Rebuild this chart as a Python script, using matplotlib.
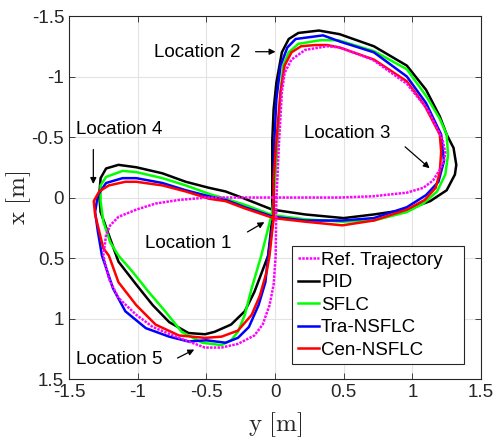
import numpy as np
import matplotlib
matplotlib.use('Agg')
import matplotlib.pyplot as plt

plt.rcParams['font.family'] = ['Liberation Sans', 'DejaVu Sans']
plt.rcParams['mathtext.fontset'] = 'cm'

# reference trajectory (horizontal axis = y, vertical axis = x)
ref_y = [0.00, 0.47, 0.71, 0.96, 1.08, 1.15, 1.20, 1.23, 1.24, 1.22, 1.11, 0.96, 0.71, 0.47, 0.38,
         0.22, 0.12, 0.07, 0.05, 0.04, 0.03, 0.01, 0.005, -0.01, -0.04, -0.09, -0.15, -0.27, -0.39, -0.51,
         -0.70, -0.89, -1.01, -1.14, -1.21, -1.25, -1.23, -1.20, -1.14, -1.01, -0.87, -0.70, -0.49, 0.00]
ref_x = [0.00, 0.00, -0.01, -0.04, -0.08, -0.14, -0.23, -0.30, -0.37, -0.48, -0.73, -0.94, -1.14, -1.24, -1.25,
         -1.22, -1.14, -1.03, -0.87, -0.67, -0.47, 0.02, 0.48, 0.72, 0.89, 1.05, 1.14, 1.21, 1.24, 1.24,
         1.16, 1.07, 0.97, 0.83, 0.67, 0.48, 0.31, 0.23, 0.16, 0.10, 0.05, 0.02, 0.00, 0.00]

pid_y = [-0.02, 0.22, 0.50, 0.72, 0.96, 1.13, 1.25, 1.31, 1.32, 1.30, 1.25, 1.20, 1.10, 0.96, 0.72,
         0.47, 0.32, 0.17, 0.10, 0.05, 0.01, -0.01, -0.02, -0.02, -0.02, -0.05, -0.15, -0.22, -0.32, -0.44,
         -0.51, -0.63, -0.77, -0.89, -1.01, -1.14, -1.21, -1.27, -1.28, -1.27, -1.23, -1.14, -1.01, -0.82, -0.65,
         -0.48, -0.36, -0.22, -0.02]
pid_x = [0.10, 0.14, 0.17, 0.14, 0.10, 0.03, -0.06, -0.19, -0.27, -0.41, -0.52, -0.67, -0.89, -1.09, -1.25,
         -1.35, -1.38, -1.36, -1.31, -1.20, -0.95, -0.73, -0.47, -0.14, 0.17, 0.48, 0.78, 0.94, 1.05, 1.11,
         1.13, 1.12, 1.03, 0.89, 0.72, 0.53, 0.31, 0.12, -0.02, -0.16, -0.24, -0.27, -0.25, -0.20, -0.13,
         -0.08, -0.05, 0.01, 0.10]

sflc_y = [-0.02, 0.22, 0.49, 0.72, 0.96, 1.08, 1.18, 1.24, 1.26, 1.25, 1.20, 1.10, 0.96, 0.72, 0.46,
          0.33, 0.17, 0.10, 0.06, 0.04, 0.02, 0.00, -0.02, -0.10, -0.17, -0.22, -0.27, -0.32, -0.39, -0.46,
          -0.53, -0.68, -0.80, -0.92, -1.04, -1.14, -1.20, -1.25, -1.27, -1.27, -1.23, -1.11, -1.01, -0.82, -0.65,
          -0.48, -0.36, -0.22, -0.02]
sflc_x = [0.145, 0.18, 0.20, 0.19, 0.12, 0.05, -0.05, -0.19, -0.35, -0.52, -0.65, -0.84, -1.06, -1.21, -1.30,
          -1.30, -1.27, -1.20, -1.09, -0.87, -0.47, -0.14, 0.12, 0.48, 0.75, 0.97, 1.11, 1.18, 1.22, 1.21,
          1.20, 1.11, 0.94, 0.78, 0.61, 0.48, 0.37, 0.20, 0.03, -0.10, -0.17, -0.22, -0.21, -0.16, -0.10,
          -0.03, 0.01, 0.06, 0.145]

tra_y = [-0.01, 0.22, 0.49, 0.72, 0.96, 1.10, 1.19, 1.23, 1.21, 1.10, 0.96, 0.72, 0.47, 0.35, 0.15,
         0.09, 0.04, 0.01, -0.005, -0.01, -0.01, -0.05, -0.07, -0.12, -0.19, -0.27, -0.36, -0.50, -0.63, -0.77,
         -0.94, -1.09, -1.18, -1.26, -1.29, -1.31, -1.29, -1.23, -1.11, -1.01, -0.82, -0.65, -0.48, -0.36, -0.22,
         -0.01]
tra_x = [0.16, 0.19, 0.19, 0.17, 0.08, -0.02, -0.13, -0.30, -0.52, -0.78, -1.00, -1.20, -1.29, -1.34, -1.31,
         -1.24, -1.09, -0.81, -0.47, -0.14, 0.16, 0.48, 0.70, 0.89, 1.07, 1.16, 1.20, 1.18, 1.19, 1.15,
         1.08, 0.94, 0.75, 0.48, 0.28, 0.12, -0.02, -0.12, -0.16, -0.16, -0.12, -0.06, -0.01, 0.02, 0.08,
         0.16]

cen_y = [-0.01, 0.22, 0.49, 0.72, 0.96, 1.09, 1.17, 1.20, 1.21, 1.20, 1.09, 0.96, 0.72, 0.47, 0.38,
         0.29, 0.19, 0.12, 0.07, 0.04, 0.01, -0.01, -0.01, -0.04, -0.06, -0.11, -0.17, -0.27, -0.39, -0.51,
         -0.70, -0.87, -1.01, -1.14, -1.21, -1.25, -1.28, -1.31, -1.32, -1.28, -1.21, -1.09, -1.01, -0.82, -0.65,
         -0.48, -0.36, -0.22, -0.01]
cen_x = [0.17, 0.20, 0.23, 0.19, 0.10, 0.02, -0.08, -0.21, -0.38, -0.52, -0.76, -0.96, -1.14, -1.24, -1.26,
         -1.26, -1.25, -1.20, -1.09, -0.87, -0.47, -0.14, 0.17, 0.48, 0.61, 0.81, 0.97, 1.10, 1.15, 1.16,
         1.14, 1.05, 0.89, 0.70, 0.48, 0.42, 0.28, 0.14, 0.03, -0.05, -0.10, -0.13, -0.13, -0.10, -0.05,
         0.01, 0.03, 0.09, 0.17]

ticks = [-1.5, -1, -0.5, 0, 0.5, 1, 1.5]
tick_labels = ['-1.5', '-1', '-0.5', '0', '0.5', '1', '1.5']

fig = plt.figure(figsize=(4.94, 4.4), dpi=100)
ax = fig.add_axes([0.1397, 0.1386, 0.834, 0.825])

lw = 1.8
ax.plot(ref_y, ref_x, color='#ff00ff', lw=lw, ls=(0, (1, 0.5)), label='Ref. Trajectory   ', zorder=6)
ax.plot(pid_y, pid_x, color='k', lw=lw, label='PID', zorder=2)
ax.plot(sflc_y, sflc_x, color='#00ff00', lw=lw, label='SFLC', zorder=3)
ax.plot(tra_y, tra_x, color='#0000ff', lw=lw, label='Tra-NSFLC', zorder=4)
ax.plot(cen_y, cen_x, color='#ff0000', lw=lw, label='Cen-NSFLC', zorder=5)

ax.set_xlim(-1.5, 1.5)
ax.set_ylim(1.5, -1.5)
ax.set_xticks(ticks)
ax.set_xticklabels(tick_labels)
ax.set_yticks(ticks)
ax.set_yticklabels(tick_labels)
ax.tick_params(direction='in', top=True, right=True, labelsize=13.5, colors='#262626', length=4, width=0.6)
for s in ax.spines.values():
    s.set_color('#262626')
    s.set_linewidth(0.8)
ax.grid(True, color='#e3e3e3', lw=0.8)
ax.set_axisbelow(True)

ax.set_xlabel(r'$\mathrm{y\ [m]}$', fontsize=18, color='#262626', labelpad=7)
ax.set_ylabel(r'$\mathrm{x\ [m]}$', fontsize=18, color='#262626')
ax.yaxis.set_label_coords(-0.088, 0.5)

arr = dict(arrowstyle='-|>', color='k', lw=0.9, mutation_scale=9)
fs = 13.5
ax.annotate('', xy=(0.024, -1.205), xytext=(-0.162, -1.205), arrowprops=arr)
ax.text(-0.568, -1.20, 'Location 2', fontsize=fs, ha='center', va='center')
ax.annotate('', xy=(1.141, -0.227), xytext=(0.932, -0.434), arrowprops=arr)
ax.text(0.528, -0.533, 'Location 3', fontsize=fs, ha='center', va='center')
ax.annotate('', xy=(-1.323, -0.089), xytext=(-1.323, -0.42), arrowprops=arr)
ax.text(-1.136, -0.558, 'Location 4', fontsize=fs, ha='center', va='center')
ax.annotate('', xy=(-0.06, 0.192), xytext=(-0.218, 0.296), arrowprops=arr)
ax.text(-0.63, 0.376, 'Location 1', fontsize=fs, ha='center', va='center')
ax.annotate('', xy=(-0.57, 1.246), xytext=(-0.728, 1.337), arrowprops=arr)
ax.text(-1.132, 1.335, 'Location 5', fontsize=fs, ha='center', va='center')

leg = ax.legend(loc='lower right', bbox_to_anchor=(0.959, 0.041), fontsize=fs, handlelength=1.15,
                handletextpad=0.1, labelspacing=0.28, borderpad=0.3, borderaxespad=0,
                fancybox=False, framealpha=1, edgecolor='#262626')
leg.get_frame().set_linewidth(0.8)

fig.savefig('out.png', dpi=100)
